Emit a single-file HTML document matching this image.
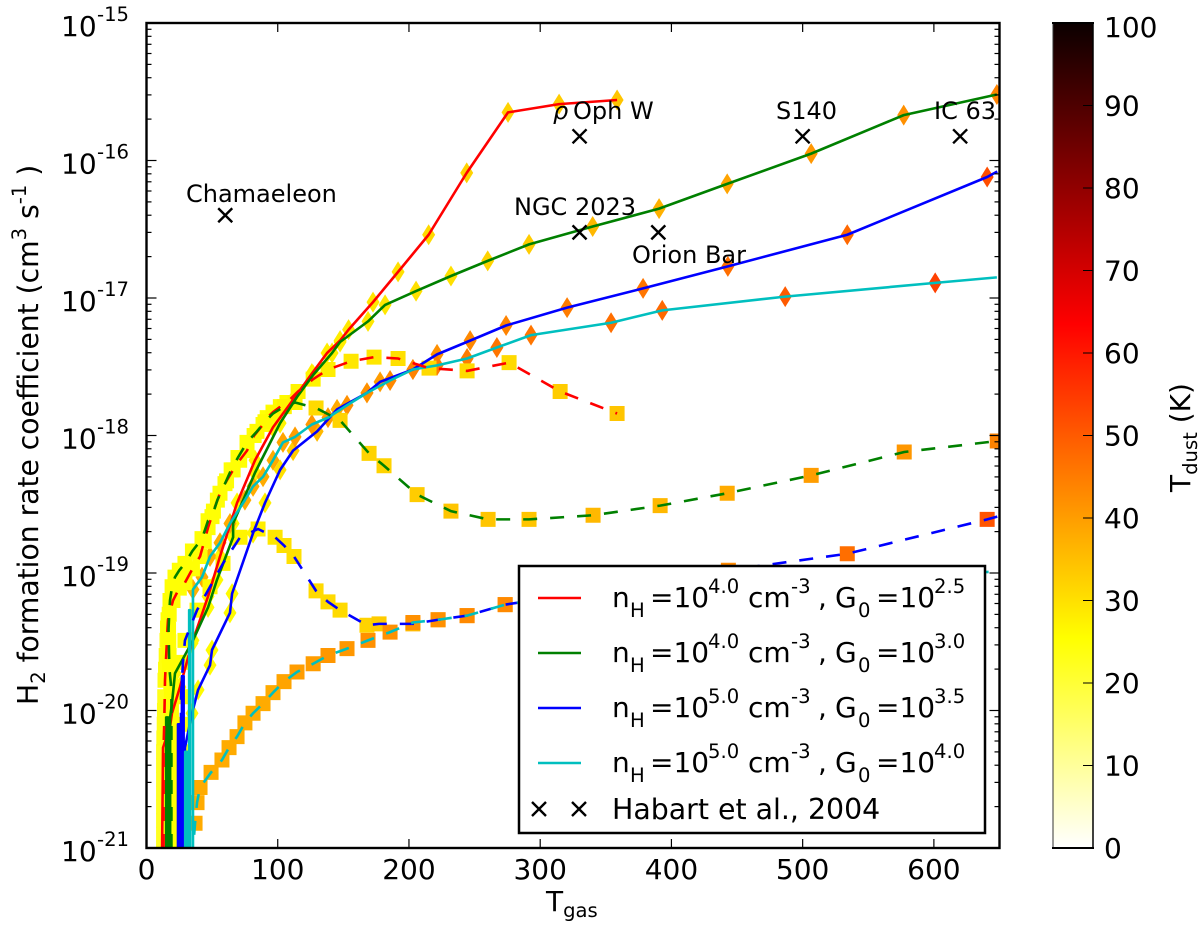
<!DOCTYPE html>
<html lang="en">
<head>
<meta charset="utf-8">
<title>H2 formation rate coefficient vs gas temperature</title>
<style>
html,body{margin:0;padding:0;background:#fff;}
svg{display:block;}
text{font-family:"DejaVu Sans","Liberation Sans",sans-serif;fill:#000;}
</style>
</head>
<body>
<svg id="chart" xmlns="http://www.w3.org/2000/svg" width="1200" height="928" viewBox="0 0 1200 928">
  <defs>
    <clipPath id="plot-clip"><rect x="146.5" y="23" width="853" height="825"/></clipPath>
    <linearGradient id="hot-r" x1="0" y1="1" x2="0" y2="0">
      <stop offset="0" stop-color="#ffffff"/>
      <stop offset="0.254" stop-color="#ffff00"/>
      <stop offset="0.635" stop-color="#ff0000"/>
      <stop offset="1" stop-color="#0b0000"/>
    </linearGradient>
  </defs>
  <rect x="0" y="0" width="1200" height="928" fill="#ffffff"/>
  <g id="markers" clip-path="url(#plot-clip)"></g>
  <g id="lines" clip-path="url(#plot-clip)"></g>
  <g id="obs" clip-path="url(#plot-clip)"></g>

  <g font-size="24">
    <text x="186" y="202" font-size="24">Chamaeleon</text>
    <text y="119" font-size="24"><tspan x="553" font-style="italic">ρ</tspan><tspan x="573">Oph W</tspan></text>
    <text x="776" y="119" font-size="24">S140</text>
    <text x="934" y="119" font-size="24">IC 63</text>
    <text x="514" y="215" font-size="24">NGC 2023</text>
    <text x="632" y="263" font-size="24">Orion Bar</text>
  </g>

  <g id="axes"></g>
  <rect x="146.5" y="23" width="853" height="825" fill="none" stroke="#000" stroke-width="2.4"/>

  <g>
    <rect x="519" y="566" width="466" height="267" fill="#fff" stroke="#000" stroke-width="2.5"/>

    <g>
      <line x1="538" y1="598" x2="581" y2="598" stroke="#ff0000" stroke-width="2.6"/>
      <text font-size="28"><tspan x="612" y="607">n</tspan><tspan x="630" y="617" font-size="19.6">H</tspan><tspan x="650" y="607">=10</tspan><tspan x="708" y="593" font-size="19.6">4.0</tspan><tspan x="748" y="607">cm</tspan><tspan x="791" y="593" font-size="19.6">-3</tspan><tspan x="818" y="607">,</tspan><tspan x="835" y="607">G</tspan><tspan x="858" y="617" font-size="19.6">0</tspan><tspan x="876" y="607">=10</tspan><tspan x="934" y="593" font-size="19.6">2.5</tspan></text>
    </g>
    <g>
      <line x1="538" y1="653" x2="581" y2="653" stroke="#008000" stroke-width="2.6"/>
      <text font-size="28"><tspan x="612" y="662">n</tspan><tspan x="630" y="672" font-size="19.6">H</tspan><tspan x="650" y="662">=10</tspan><tspan x="708" y="648" font-size="19.6">4.0</tspan><tspan x="748" y="662">cm</tspan><tspan x="791" y="648" font-size="19.6">-3</tspan><tspan x="818" y="662">,</tspan><tspan x="835" y="662">G</tspan><tspan x="858" y="672" font-size="19.6">0</tspan><tspan x="876" y="662">=10</tspan><tspan x="934" y="648" font-size="19.6">3.0</tspan></text>
    </g>
    <g>
      <line x1="538" y1="708" x2="581" y2="708" stroke="#0000ff" stroke-width="2.6"/>
      <text font-size="28"><tspan x="612" y="717">n</tspan><tspan x="630" y="727" font-size="19.6">H</tspan><tspan x="650" y="717">=10</tspan><tspan x="708" y="703" font-size="19.6">5.0</tspan><tspan x="748" y="717">cm</tspan><tspan x="791" y="703" font-size="19.6">-3</tspan><tspan x="818" y="717">,</tspan><tspan x="835" y="717">G</tspan><tspan x="858" y="727" font-size="19.6">0</tspan><tspan x="876" y="717">=10</tspan><tspan x="934" y="703" font-size="19.6">3.5</tspan></text>
    </g>
    <g>
      <line x1="538" y1="763" x2="581" y2="763" stroke="#00bfbf" stroke-width="2.6"/>
      <text font-size="28"><tspan x="612" y="772">n</tspan><tspan x="630" y="782" font-size="19.6">H</tspan><tspan x="650" y="772">=10</tspan><tspan x="708" y="758" font-size="19.6">5.0</tspan><tspan x="748" y="772">cm</tspan><tspan x="791" y="758" font-size="19.6">-3</tspan><tspan x="818" y="772">,</tspan><tspan x="835" y="772">G</tspan><tspan x="858" y="782" font-size="19.6">0</tspan><tspan x="876" y="772">=10</tspan><tspan x="934" y="758" font-size="19.6">4.0</tspan></text>
    </g>
    <g>
      <path d="M532 802L546 816M546 802L532 816" stroke="#000" stroke-width="2.4" fill="none"/>
      <path d="M572 802L586 816M586 802L572 816" stroke="#000" stroke-width="2.4" fill="none"/>
      <text x="612" y="819" font-size="28.4">Habart et al., 2004</text>
    </g>
  </g>

  <text x="546" y="911" font-size="28">T<tspan dy="6" font-size="19.6">gas</tspan></text>
  <text transform="translate(38,705) rotate(-90)" font-size="28.2">H<tspan dy="7" font-size="19.6">2</tspan><tspan dy="-7"> formation rate coefficient (cm</tspan><tspan dy="-12" font-size="19.6">3</tspan><tspan dy="12"> s</tspan><tspan dy="-12" font-size="19.6">-1</tspan><tspan dy="12"> )</tspan></text>

  <g>
    <rect x="1053" y="23" width="40" height="825" fill="url(#hot-r)"/>
    <line x1="1053" y1="23" x2="1053" y2="848" stroke="#333" stroke-width="1"/>
    <line x1="1093" y1="23" x2="1093" y2="848" stroke="#000" stroke-width="1.5"/>
    <line x1="1052" y1="23" x2="1094" y2="23" stroke="#000" stroke-width="2"/>
    <line x1="1052" y1="848" x2="1094" y2="848" stroke="#000" stroke-width="2"/>
    <g id="cbar-ticks"></g>
    <text transform="translate(1190,492) rotate(-90)" font-size="28">T<tspan dy="7" font-size="19.6">dust</tspan><tspan dy="-7"> (K)</tspan></text>
  </g>
</svg>

<script>
/* X/Y axis data */
const xTickValues = [0, 100, 200, 300, 400, 500, 600];
const yTickExponents = [-15, -16, -17, -18, -19, -20, -21];
const yTickLabels = ["-15", "-16", "-17", "-18", "-19", "-20", "-21"];
const colorbarTickValues = [0, 10, 20, 30, 40, 50, 60, 70, 80, 90, 100];

/* Habart et al. 2004 observations */
const habartTgas = [60, 330, 500, 620, 330, 390];
const habartRate = [4e-17, 1.5e-16, 1.5e-16, 1.5e-16, 3e-17, 3e-17];

/* log10 rate coefficient vs gas temperature; tdust null = no marker drawn */
const redSolidTgas = [11.8,12.6,17.9,19.4,25.5,34.7,46.9,56,69,82.7,96.4,111.7,126,137.6,147.5,154,172.6,191.7,215,244,275.5,314.4,358.6];
const redSolidLogK = [-21.1,-20.27,-20.12,-20.02,-19.83,-19.51,-19.17,-18.88,-18.49,-18.18,-17.94,-17.74,-17.55,-17.40,-17.31,-17.23,-17.03,-16.81,-16.54,-16.09,-15.65,-15.59,-15.56];
const redSolidTdust = [null,null,26,26,26,26,26,26,26,27,27,27,28,28,28,29,29,30,31,32,32,33,34];

const greenSolidTgas = [15,15,16.5,16.5,18,18,19.4,21.7,35.4,46.9,53.7,66,66,82.7,101.8,114.7,127,141.4,147.5,168.8,181.8,205.4,232,260,291.5,340,390.6,442.5,506.5,577,648];
const greenSolidLogK = [-21.1,-20.05,-20.05,-21.1,-21.1,-20.05,-19.95,-19.73,-19.49,-19.25,-19.05,-18.74,-18.64,-18.27,-17.91,-17.72,-17.56,-17.40,-17.32,-17.17,-17.05,-16.95,-16.84,-16.73,-16.61,-16.48,-16.35,-16.17,-15.95,-15.67,-15.52];
const greenSolidTdust = [null,null,null,null,null,null,26,26,26,26,26,26,26,27,27,27,27,28,28,29,29,30,30,32,33,36,37,39,41,42,44];

const blueSolidTgas = [24,24,25.5,25.5,27,27,28.3,28.3,29.3,34.7,39.3,48.4,49.9,63.6,65.2,81.2,90.3,101.8,111.7,130,145.2,168,178,203,221.4,246.6,274,320.5,378.4,443,534,640.6,648.3];
const blueSolidLogK = [-21.1,-20.1,-20.1,-21.1,-21.1,-19.75,-19.75,-21.1,-20.27,-20.02,-19.85,-19.67,-19.56,-19.29,-19.15,-18.71,-18.49,-18.25,-18.11,-17.97,-17.81,-17.69,-17.61,-17.52,-17.41,-17.31,-17.20,-17.07,-16.93,-16.77,-16.54,-16.12,-16.08];
const blueSolidTdust = [null,null,null,null,null,null,null,null,null,26,26,26,26,26,26,27,28,30,33,36,38,39,40,41,42,43,44,45,46,47,48,52,null];

const cyanSolidTgas = [29.5,29.5,31,31,32.5,32.5,33.2,33.2,35.4,35.4,42.3,48.4,56,63.6,75,81.2,88.8,96.4,104,113.2,126,138.3,152.8,168,185.6,203,221.4,244.3,267,293,354,393,486.7,601,648];
const cyanSolidLogK = [-21.1,-20.3,-20.3,-21.1,-21.1,-19.27,-19.27,-21.1,-21.1,-19.12,-19.03,-18.88,-18.78,-18.64,-18.47,-18.37,-18.30,-18.18,-18.05,-18.01,-17.92,-17.87,-17.78,-17.69,-17.60,-17.52,-17.49,-17.44,-17.36,-17.27,-17.18,-17.09,-16.99,-16.89,-16.85];
const cyanSolidTdust = [null,null,null,null,null,null,null,null,null,37,38,38,38,38,38,38,38,38,39,40,41,41,42,42,43,44,45,45,46,46,47,48,50,54,null];

const redDashedTgas = [13,13,13,13,13,13,13,13,13.2,13.5,13.7,13.9,14.1,14.5,15,15.6,16,16.4,20.2,25,29.3,35,40.8,44,46.9,51,56,61,66,71,76.6,82,88.8,92,96.4,102,107,115.5,127,138.3,155.9,173.4,191.7,215.3,244.3,276.3,315.2,358.6];
const redDashedLogK = [-21,-20.9,-20.8,-20.7,-20.6,-20.5,-20.4,-20.3,-20.2,-20.1,-20.0,-19.9,-19.78,-19.7,-19.6,-19.49,-19.4,-19.34,-19.20,-19.11,-19.07,-18.97,-18.88,-18.77,-18.67,-18.55,-18.42,-18.33,-18.25,-18.18,-18.11,-18.00,-17.92,-17.87,-17.83,-17.79,-17.76,-17.68,-17.59,-17.52,-17.46,-17.43,-17.44,-17.51,-17.53,-17.47,-17.68,-17.84];
const redDashedTdust = [22,22,22,22,22,22,22,22,23,23,23,23,24,24,24,24,24,25,25,25,25,25,25,25,25,25,25,25,25,25,25,25,25,25,25,26,26,27,27,28,29,29,30,31,31,31,33,34];

const greenDashedTgas = [19,19,19,19,19,19,19,19,19,19,19,19,18.5,17.5,17.2,17,16.8,17.3,17.9,19.5,21.7,25,29.3,35,42.3,46.9,49.9,54,59.8,64.5,69.7,76.6,84.2,90.3,96.4,105,113.2,129.2,147.5,169.6,181,206.2,232,260.3,291.5,340.3,391.4,442.5,506.5,577.4,648.3];
const greenDashedLogK = [-21,-20.9,-20.8,-20.7,-20.6,-20.5,-20.4,-20.3,-20.2,-20.1,-20,-19.9,-19.8,-19.7,-19.6,-19.5,-19.41,-19.3,-19.20,-19.1,-19.03,-18.98,-18.93,-18.84,-18.75,-18.62,-18.59,-18.47,-18.35,-18.25,-18.16,-18.05,-17.97,-17.90,-17.84,-17.79,-17.76,-17.80,-17.89,-18.13,-18.22,-18.43,-18.55,-18.61,-18.61,-18.58,-18.51,-18.42,-18.29,-18.12,-18.04];
const greenDashedTdust = [25,25,25,25,25,25,25,25,25,25,25,25,25,25,25,25,25,25,25,25,25,25,25,25,25,25,25,25,25,25,25,25,26,26,26,27,27,31,32,32,32,33,34,34,34,36,36,38,40,41,44];

const blueDashedTgas = [26.3,26.3,26.3,26.3,26.3,26.3,26.3,27.8,29.3,38.5,48.4,58.3,71.3,85,98,104.8,112.4,129.2,138.3,147.5,168,177.2,203,222.2,244.3,273.3,294,378,443.4,534,640.6,648.3];
const blueDashedLogK = [-21.1,-20.9,-20.7,-20.5,-20.3,-20.1,-19.9,-19.65,-19.49,-19.27,-19.10,-18.93,-18.74,-18.68,-18.74,-18.80,-18.88,-19.13,-19.21,-19.27,-19.38,-19.37,-19.37,-19.34,-19.31,-19.23,-19.20,-19.09,-18.98,-18.86,-18.61,-18.59];
const blueDashedTdust = [null,25,25,25,25,25,25,25,25,26,26,27,27,28,29,30,30,31,31,31,32,33,36,37,39,39,41,42,43,47,51,null];

const cyanDashedTgas = [34.7,37,38.5,40.8,49.2,57.5,62.9,69,75,81.2,88.8,96.4,104.8,114.7,127,138.3,152.8,168.8,185.6,203,222.2,244.3,273.3,294,378,498,649];
const cyanDashedLogK = [-21.1,-20.82,-20.67,-20.56,-20.45,-20.36,-20.27,-20.19,-20.09,-20.02,-19.95,-19.87,-19.79,-19.72,-19.66,-19.60,-19.55,-19.49,-19.43,-19.36,-19.34,-19.31,-19.23,-19.20,-19.12,-19.04,-18.99];
const cyanDashedTdust = [null,38,38,38,38,38,38,38,38,38,38,38,39,40,40,41,41,42,42,42,42,43,43,44,null,null,null];

const NS = "http://www.w3.org/2000/svg";
const PLOT_LEFT = 146.5, PLOT_TOP = 23, PLOT_BOTTOM = 848, PLOT_RIGHT = 999.5;
const X_MAX = 650, LOG_TOP = -15, LOG_BOTTOM = -21;
function xScale(t){ return PLOT_LEFT + (t / X_MAX) * (PLOT_RIGHT - PLOT_LEFT); }
function yScale(l){ return PLOT_TOP + ((LOG_TOP - l) / (LOG_TOP - LOG_BOTTOM)) * (PLOT_BOTTOM - PLOT_TOP); }
function cbarScale(v){ return 848 - (v / 100) * 825; }
function hotR(v){
  const u = 1 - v / 100;
  const r = Math.min(1, (u + 0.0416) / 0.4066);
  const g = Math.max(0, Math.min(1, (u - 0.365) / 0.381));
  const b = Math.max(0, Math.min(1, (u - 0.746) / 0.254));
  return "rgb(" + Math.round(r * 255) + "," + Math.round(g * 255) + "," + Math.round(b * 255) + ")";
}
function mk(tag, attrs, parent){
  const el = document.createElementNS(NS, tag);
  for (const k in attrs) el.setAttribute(k, attrs[k]);
  parent.appendChild(el);
  return el;
}

const markerLayer = document.getElementById("markers");
const lineLayer = document.getElementById("lines");
const obsLayer = document.getElementById("obs");
const axesLayer = document.getElementById("axes");
const cbarLayer = document.getElementById("cbar-ticks");

const solidSeries = [
  [redSolidTgas, redSolidLogK, redSolidTdust, "#ff0000"],
  [greenSolidTgas, greenSolidLogK, greenSolidTdust, "#008000"],
  [blueSolidTgas, blueSolidLogK, blueSolidTdust, "#0000ff"],
  [cyanSolidTgas, cyanSolidLogK, cyanSolidTdust, "#00bfbf"]
];
const dashedSeries = [
  [redDashedTgas, redDashedLogK, redDashedTdust, "#ff0000"],
  [greenDashedTgas, greenDashedLogK, greenDashedTdust, "#008000"],
  [blueDashedTgas, blueDashedLogK, blueDashedTdust, "#0000ff"],
  [cyanDashedTgas, cyanDashedLogK, cyanDashedTdust, "#00bfbf"]
];

solidSeries.forEach(function(s){
  s[0].forEach(function(t, i){
    if (s[2][i] === null) return;
    const x = xScale(t), y = yScale(s[1][i]);
    const d = mk("polygon", {points: x + "," + (y - 10.5) + " " + (x + 6.5) + "," + y + " " + x + "," + (y + 10.5) + " " + (x - 6.5) + "," + y, fill: hotR(s[2][i])}, markerLayer);
    
    
  });
});
dashedSeries.forEach(function(s){
  s[0].forEach(function(t, i){
    if (s[2][i] === null) return;
    const x = xScale(t), y = yScale(s[1][i]);
    const r = mk("rect", {x: x - 7.5, y: y - 7.5, width: 15, height: 15, fill: hotR(s[2][i])}, markerLayer);
    
    
  });
});
function pathOf(ts, ls){
  return ts.map(function(t, i){ return (i ? "L" : "M") + xScale(t).toFixed(2) + " " + yScale(ls[i]).toFixed(2); }).join("");
}
solidSeries.forEach(function(s){
  const p = mk("path", {d: pathOf(s[0], s[1]), fill: "none", stroke: s[3], "stroke-width": 2.6, "stroke-linejoin": "round"}, lineLayer);
  
  
});
dashedSeries.forEach(function(s){
  const p = mk("path", {d: pathOf(s[0], s[1]), fill: "none", stroke: s[3], "stroke-width": 2.6, "stroke-dasharray": "14 13"}, lineLayer);
  
  
});

habartTgas.forEach(function(t, i){
  const x = xScale(t), y = yScale(Math.log10(habartRate[i]));
  const p = mk("path", {d: "M" + (x - 7) + " " + (y - 7) + "L" + (x + 7) + " " + (y + 7) + "M" + (x + 7) + " " + (y - 7) + "L" + (x - 7) + " " + (y + 7), stroke: "#000", "stroke-width": 2.4, fill: "none"}, obsLayer);
  
  
});

xTickValues.forEach(function(v){
  const x = xScale(v);
  const tb = mk("line", {x1: x, x2: x, y1: PLOT_BOTTOM, y2: PLOT_BOTTOM - 9, stroke: "#000", "stroke-width": 1.2}, axesLayer);
  
  
  const tt = mk("line", {x1: x, x2: x, y1: PLOT_TOP, y2: PLOT_TOP + 9, stroke: "#000", "stroke-width": 1.2}, axesLayer);
  
  
  const lab = mk("text", {x: x, y: 879, "text-anchor": "middle", "font-size": 28}, axesLayer);
  lab.textContent = String(v);
  
  
});
yTickExponents.forEach(function(e, i){
  const y = yScale(e);
  [[PLOT_LEFT, 1], [PLOT_RIGHT, -1]].forEach(function(side){
    const tk = mk("line", {x1: side[0], x2: side[0] + side[1] * 10, y1: y, y2: y, stroke: "#000", "stroke-width": 1.2}, axesLayer);
    
    
    if (e > LOG_BOTTOM) {
      for (let m = 2; m <= 9; m++) {
        const ym = yScale(e - 1 + Math.log10(m));
        const mt = mk("line", {x1: side[0], x2: side[0] + side[1] * 5, y1: ym, y2: ym, stroke: "#000", "stroke-width": 1.2}, axesLayer);
        
        
      }
    }
  });
  const base = mk("text", {x: 61, y: y + 13, "font-size": 28}, axesLayer);
  base.textContent = "10";
  
  
  const sup = mk("text", {x: 97, y: y - 2, "font-size": 19.6}, axesLayer);
  sup.textContent = yTickLabels[i];
  
  
});
colorbarTickValues.forEach(function(v){
  const y = cbarScale(v);
  const tk = mk("line", {x1: 1093, x2: 1083, y1: y, y2: y, stroke: "#000", "stroke-width": 1}, cbarLayer);
  
  
  const lab = mk("text", {x: 1104, y: y + 10 + (v === 100 ? 4 : 0), "font-size": 28}, cbarLayer);
  lab.textContent = String(v);
  
  
});
</script>
</body>
</html>
